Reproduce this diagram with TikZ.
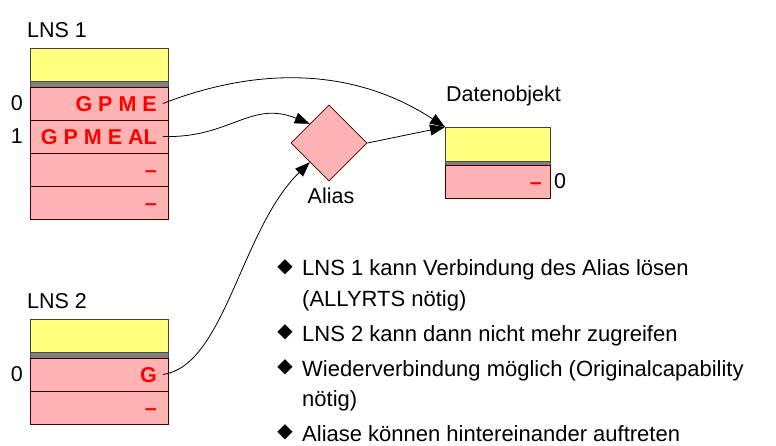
\documentclass[tikz,border=0pt]{standalone}
\usepackage{fontspec}
\setmainfont{Liberation Sans}
\newfontfamily\symfont{DejaVu Sans}
\usetikzlibrary{arrows.meta,positioning,shapes.geometric}
\definecolor{headfill}{HTML}{FFFF80}
\definecolor{cellfill}{HTML}{FFB3B3}
\definecolor{bandfill}{HTML}{808080}
\definecolor{capred}{HTML}{FF0000}
\tikzset{
    head/.style={
        draw=olive!35!black,
        fill=headfill,
        line width=0.8pt,
        minimum height=33pt,
        minimum width=138pt,
        inner sep=0pt,
        outer sep=0pt
    },
    band/.style={
        draw=black!70,
        fill=bandfill,
        line width=0.8pt,
        minimum height=6pt,
        minimum width=138pt,
        inner sep=0pt,
        outer sep=0pt
    },
    cell/.style={
        draw=red!25!black,
        fill=cellfill,
        line width=0.8pt,
        minimum height=33pt,
        minimum width=138pt,
        inner sep=0pt,
        outer sep=0pt
    },
    captext/.style={
        anchor=east,
        text=capred,
        inner xsep=6pt,
        inner ysep=0pt,
        text height=15.5pt,
        text depth=0pt,
        font=\fontsize{21.5}{24}\selectfont\bfseries
    },
    lbl/.style={
        inner sep=0pt,
        font=\fontsize{21.5}{24}\selectfont
    },
    aliasbox/.style={
        draw=red!25!black,
        fill=cellfill,
        line width=0.8pt,
        diamond,
        minimum width=76pt,
        minimum height=76pt,
        inner sep=0pt
    },
    note/.style={
        anchor=base west,
        inner sep=0pt,
        font=\fontsize{22}{26}\selectfont
    },
    dot/.style={
        inner sep=0pt,
        font=\symfont\fontsize{20}{22}\selectfont
    },
    flow/.style={-{Triangle[length=15pt,width=11pt]}, line width=0.8pt}
}

\begin{document}
\begin{tikzpicture}[x=1pt, y=-1pt]
        \useasboundingbox (0,0) rectangle (776,445);

        % LNS 1
        \node[head] (lnsAhead) at (99,64.5) {};
        \node[band, below=0pt of lnsAhead] (lnsAband) {};
        \node[cell, below=0pt of lnsAband] (rowA0) {};
        \node[cell, below=0pt of rowA0] (rowA1) {};
        \node[cell, below=0pt of rowA1] (rowA2) {};
        \node[cell, below=0pt of rowA2] (rowA3) {};
        \node[lbl, anchor=base west] (lnsAname) at ([shift={(-3,-11)}]lnsAhead.north west) {LNS 1};
        \node[captext] (capA0) at ([xshift=-5pt]rowA0.east) {G P M E};
        \node[captext] (capA1) at ([xshift=-5pt]rowA1.east) {G P M E AL};
        \node[captext] (capA2) at ([xshift=-5pt]rowA2.east) {--};
        \node[captext] (capA3) at ([xshift=-5pt]rowA3.east) {--};
        \node[lbl, left=7pt of rowA0] (idxA0) {0};
        \node[lbl, left=7pt of rowA1] (idxA1) {1};

        % LNS 2
        \node[head] (lnsBhead) at (99,335.5) {};
        \node[band, below=0pt of lnsBhead] (lnsBband) {};
        \node[cell, below=0pt of lnsBband] (rowB0) {};
        \node[cell, below=0pt of rowB0] (rowB1) {};
        \node[lbl, anchor=base west] (lnsBname) at ([shift={(-3,-11)}]lnsBhead.north west) {LNS 2};
        \node[captext] (capB0) at ([xshift=-5pt]rowB0.east) {G};
        \node[captext] (capB1) at ([xshift=-5pt]rowB1.east) {--};
        \node[lbl, left=7pt of rowB0] (idxB0) {0};

        % Alias
        \node[aliasbox] (alias) at (329,143) {};
        \node[lbl, anchor=base] (aliasname) at ([shift={(2,22)}]alias.south) {Alias};

        % Datenobjekt
        \node[head, minimum width=105pt, minimum height=34pt] (datahead) at (497.5,144) {};
        \node[band, minimum width=105pt, minimum height=4pt, below=0pt of datahead] (databand) {};
        \node[cell, minimum width=105pt, below=0pt of databand] (datarow) {};
        \node[lbl, anchor=base west] (dataname) at ([shift={(1,-25.5)}]datahead.north west) {Datenobjekt};
        \node[captext] (datacap) at ([xshift=-2pt]datarow.east) {--};
        \node[lbl, right=4pt of datarow] (dataidx) {0};

        % Verbindungen
        \draw[flow] (capA0.east) .. controls +(90,-35) and +(-95,-62) .. (datahead.north west);
        \draw[flow] (capA1.east) .. controls +(67,2) and +(-59,-24) .. (alias.north west);
        \draw[flow] (capB0.east) .. controls +(62,-9) and +(-69,67) .. (alias.south west);
        \draw[flow] (alias.east) -- (datahead.north west);

        % Hinweise
        \node[dot] (dotA) at (285,267) {◆};
        \node[note] (noteA) at (302,275) {LNS 1 kann Verbindung des Alias lösen};
        \node[note] (noteAb) at (302,306) {(ALLYRTS nötig)};
        \node[dot] (dotB) at (285,332.5) {◆};
        \node[note] (noteB) at (302,341) {LNS 2 kann dann nicht mehr zugreifen};
        \node[dot] (dotC) at (285,367.5) {◆};
        \node[note] (noteC) at (302,376) {Wiederverbindung möglich (Originalcapability};
        \node[note] (noteCb) at (302,406) {nötig)};
        \node[dot] (dotD) at (285,432.5) {◆};
        \node[note] (noteD) at (302,441) {Aliase können hintereinander auftreten};
    \end{tikzpicture}
\end{document}
